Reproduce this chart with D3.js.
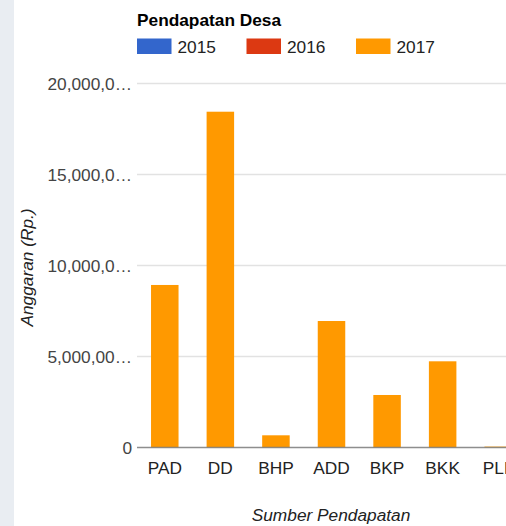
<!DOCTYPE html>
<html>
<head>
<meta charset="utf-8">
<script src="https://cdn.jsdelivr.net/npm/d3@7"></script>
<style>
  html, body { margin: 0; padding: 0; background: #fff; overflow: hidden; }
  svg { display: block; font-family: "Liberation Sans", Arial, sans-serif; }
</style>
</head>
<body>
<div id="chart"></div>
<script>
// Sumber pendapatan desa (Rp.)
const categories = ['PAD', 'DD', 'BHP', 'ADD', 'BKP', 'BKK', 'PLL'];
const years = ['2015', '2016', '2017'];
const values2015 = [0, 0, 0, 0, 0, 0, 0];
const values2016 = [0, 0, 0, 0, 0, 0, 0];
const values2017 = [8930000000, 18450000000, 670000000, 6950000000, 2885000000, 4736000000, 50000000];
const yTicks = [0, 5000000000, 10000000000, 15000000000, 20000000000];
const colors = ['#3366cc', '#dc3912', '#ff9900'];

const W = 506, H = 526;
const FONT = 17.3;
// plot area runs past the right edge, like the cropped original
const plot = { left: 137, top: 83.5, right: 526, bottom: 447.5 };

const svg = d3.select('#chart').append('svg')
  .attr('width', W).attr('height', H);

// page strip on the left
svg.append('rect')
  .attr('x', 0).attr('y', 0).attr('width', 14).attr('height', H)
  .attr('fill', '#e9edf2');

const x = d3.scaleBand()
  .domain(categories)
  .range([plot.left, plot.right])
  .paddingInner(0.505)
  .paddingOuter(0.2525);

const y = d3.scaleLinear()
  .domain([0, 20000000000])
  .range([plot.bottom, plot.top]);

// Gridlines + tick labels
const fmt = d3.format(',');
const shorten = s => s.length > 9 ? s.slice(0, 8) + '\u2026' : s;

const yAxis = svg.append('g')
  .attr('transform', `translate(${plot.left},0)`)
  .call(d3.axisLeft(y).tickValues(yTicks).tickSize(0).tickPadding(5)
    .tickFormat(d => shorten(fmt(d))));
yAxis.select('.domain').remove();
yAxis.selectAll('text')
  .attr('font-size', FONT).attr('font-family', '"Liberation Sans", Arial, sans-serif')
  .attr('fill', '#444').attr('dy', '0.34em');

svg.append('g').selectAll('line')
  .data(yTicks.filter(d => d !== 0))
  .join('line')
  .attr('x1', plot.left).attr('x2', W)
  .attr('y1', d => y(d)).attr('y2', d => y(d))
  .attr('stroke', '#e2e2e2').attr('stroke-width', 1.4);

// Stacked columns (2015 / 2016 are empty)
const rows = categories.map((c, i) => ({
  cat: c, '2015': values2015[i], '2016': values2016[i], '2017': values2017[i]
}));
const stacked = d3.stack().keys(years)(rows);

svg.append('g').selectAll('g')
  .data(stacked)
  .join('g')
  .attr('fill', (d, i) => colors[i])
  .selectAll('rect')
  .data(d => d)
  .join('rect')
  .attr('x', d => x(d.data.cat))
  .attr('width', x.bandwidth())
  .attr('y', d => y(d[1]))
  .attr('height', d => y(d[0]) - y(d[1]));

// baseline
svg.append('line')
  .attr('x1', plot.left).attr('x2', W)
  .attr('y1', y(0)).attr('y2', y(0))
  .attr('stroke', '#7a7a7a').attr('stroke-width', 1.4)
  .attr('stroke-opacity', 0.85);

// category labels
const xAxis = svg.append('g')
  .attr('transform', `translate(0,${plot.bottom})`)
  .call(d3.axisBottom(x).tickSize(0).tickPadding(14));
xAxis.select('.domain').remove();
xAxis.selectAll('text')
  .attr('font-size', FONT).attr('font-family', '"Liberation Sans", Arial, sans-serif')
  .attr('fill', '#222');

// axis titles
svg.append('text')
  .attr('x', (plot.left + plot.right) / 2 - 0.5).attr('y', 521)
  .attr('text-anchor', 'middle')
  .attr('font-size', FONT).attr('font-style', 'italic').attr('fill', '#222')
  .text('Sumber Pendapatan');

svg.append('text')
  .attr('transform', 'translate(33,267.5) rotate(-90)')
  .attr('text-anchor', 'middle')
  .attr('font-size', FONT).attr('font-style', 'italic').attr('fill', '#222')
  .text('Anggaran (Rp.)');

// title + legend
svg.append('text')
  .attr('x', 137).attr('y', 25.5)
  .attr('font-size', FONT).attr('font-weight', 'bold').attr('fill', '#000')
  .text('Pendapatan Desa');

const legend = svg.append('g').selectAll('g')
  .data(years)
  .join('g')
  .attr('transform', (d, i) => `translate(${137 + i * 109.5},38.5)`);
legend.append('rect')
  .attr('width', 34.5).attr('height', 15.5)
  .attr('fill', (d, i) => colors[i]);
legend.append('text')
  .attr('x', 40.5).attr('y', 14.5)
  .attr('font-size', FONT).attr('fill', '#222')
  .text(d => d);
</script>
</body>
</html>
